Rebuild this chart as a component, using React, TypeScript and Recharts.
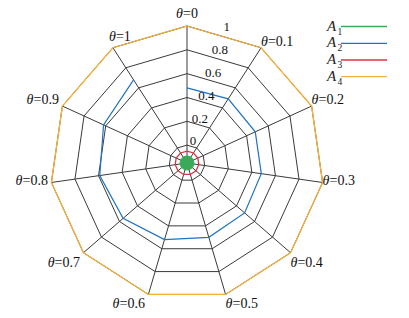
import React from 'react';
import { RadarChart, PolarGrid, PolarAngleAxis, PolarRadiusAxis, Radar, Legend } from 'recharts';

// categories (theta values)
const thetas = ['0', '0.1', '0.2', '0.3', '0.4', '0.5', '0.6', '0.7', '0.8', '0.9', '1'];
// series values (radial axis offset so that 0 sits away from the centre)
const a1 = [-0.09, -0.09, -0.09, -0.09, -0.09, -0.09, -0.09, -0.09, -0.09, -0.09, -0.09];
const a2 = [0.48, 0.49, 0.48, 0.48, 0.49, 0.5, 0.52, 0.56, 0.59, 0.62, 0.68];
const a3 = [-0.05, -0.05, -0.05, -0.05, -0.05, -0.05, -0.05, -0.05, -0.05, -0.05, -0.05];
const a4 = [1, 1, 1, 1, 1, 1, 1, 1, 1, 1, 1];
// radial tick labels
const radiusTicks = [0, 0.2, 0.4, 0.6, 0.8, 1];
const seriesNames = ['A1', 'A2', 'A3', 'A4'];
const seriesColors = ['#3aaa5a', '#1f73c2', '#dc3542', '#f6b23c'];

const data = thetas.map((t, i) => ({ theta: t, A1: a1[i], A2: a2[i], A3: a3[i], A4: a4[i] }));

const CX = 187;
const CY = 163;
const R = 137;
const FONT = '"Liberation Serif", serif';

const AngleTick = (props: any) => {
  const { x, y, payload, index, textAnchor } = props;
  // bring position back to the polygon vertex
  const ddx = x - CX;
  const ddy = y - CY;
  const dist = Math.sqrt(ddx * ddx + ddy * ddy) || 1;
  const vx = CX + (ddx * R) / dist;
  const vy = CY + (ddy * R) / dist;
  let anchor = textAnchor;
  let dx = 0;
  let dy = 0;
  const rel = vy - CY;
  if (anchor === 'middle') dy = -13;
  else if (rel < -30) dy = -7;
  else if (rel < 40) dy = -2;
  else dy = 9;
  if (anchor === 'start') dx = 0;
  if (anchor === 'end') dx = -3.5;
  if (index === thetas.length - 1) {
    anchor = 'middle';
    dx = 7;
    dy = -12;
  }
  return (
    <text
      x={vx + dx}
      y={vy + dy}
      textAnchor={anchor}
      dominantBaseline="central"
      style={{ fontFamily: FONT, fontSize: 14, fill: '#111' }}
    >
      <tspan style={{ fontStyle: 'italic' }}>θ</tspan>
      <tspan>={payload.value}</tspan>
    </text>
  );
};

const RadiusTick = (props: any) => {
  const { x, y, payload } = props;
  return (
    <text
      x={x + 1}
      y={y - 5}
      textAnchor="middle"
      dominantBaseline="central"
      style={{ fontFamily: FONT, fontSize: 13, fill: '#111' }}
    >
      {payload.value}
    </text>
  );
};

const OpenLine = (props: any) => {
  const pts = props.points || [];
  const d = pts.map((p: any, i: number) => `${i ? 'L' : 'M'}${p.x},${p.y}`).join(' ');
  return <path d={d} fill="none" stroke={seriesColors[1]} strokeWidth={1.2} />;
};

const LegendContent = () => {
  const rowY = [16.5, 33.3, 50, 66.6];
  return (
    <svg width={80} height={80} style={{ display: 'block', overflow: 'visible' }}>
      {seriesNames.map((name, i) => (
        <g key={name}>
          <text
            x={7}
            y={rowY[i] + 4}
            style={{ fontFamily: FONT, fontSize: 15, fontStyle: 'italic', fill: '#222' }}
          >
            {name.slice(0, 1)}
          </text>
          <text x={17.5} y={rowY[i] + 8} style={{ fontFamily: FONT, fontSize: 9.5, fill: '#222' }}>
            {name.slice(1)}
          </text>
          <line x1={21} x2={67} y1={rowY[i]} y2={rowY[i]} stroke={seriesColors[i]} strokeWidth={1.3} />
        </g>
      ))}
    </svg>
  );
};

export default function App() {
  return (
    <div style={{ width: 409, height: 318, background: '#fff' }}>
      <style>{`body{margin:0;background:#fff}`}</style>
      <RadarChart
        width={409}
        height={318}
        data={data}
        cx={CX}
        cy={CY}
        outerRadius={R}
        startAngle={90}
        endAngle={-270}
        margin={{ top: 0, right: 0, bottom: 0, left: 0 }}
      >
        <PolarGrid stroke="#3a3a3a" strokeWidth={1} strokeOpacity={1} />
        <PolarAngleAxis dataKey="theta" tick={AngleTick} tickLine={false} axisLine={false} />
        <PolarRadiusAxis
          domain={[-0.15, 1]}
          ticks={radiusTicks}
          angle={73.6}
          axisLine={false}
          tickLine={false}
          tick={RadiusTick}
          allowDataOverflow
          type="number"
        />
        <Radar
          name={seriesNames[0]}
          dataKey="A1"
          stroke={seriesColors[0]}
          fill={seriesColors[0]}
          fillOpacity={1}
          strokeWidth={1}
          isAnimationActive={false}
        />
        <Radar
          name={seriesNames[1]}
          dataKey="A2"
          stroke={seriesColors[1]}
          fill="none"
          shape={OpenLine}
          isAnimationActive={false}
        />
        <Radar
          name={seriesNames[2]}
          dataKey="A3"
          stroke={seriesColors[2]}
          fill="none"
          fillOpacity={0}
          strokeWidth={1.3}
          isAnimationActive={false}
        />
        <Radar
          name={seriesNames[3]}
          dataKey="A4"
          stroke={seriesColors[3]}
          fill="none"
          fillOpacity={0}
          strokeWidth={1.3}
          isAnimationActive={false}
        />
        <Legend
          content={LegendContent}
          layout="vertical"
          align="right"
          verticalAlign="top"
          wrapperStyle={{ position: 'absolute', left: 320, top: 10, width: 80, height: 80 }}
        />
      </RadarChart>
    </div>
  );
}
